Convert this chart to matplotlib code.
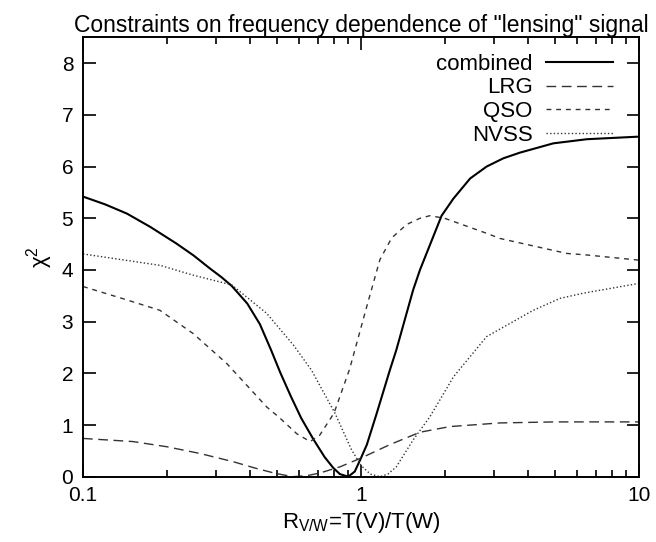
import numpy as np
import matplotlib
matplotlib.use("Agg")
import matplotlib.pyplot as plt
from matplotlib import ticker

plt.rcParams["font.family"] = ["Liberation Sans", "DejaVu Sans"]
plt.rcParams["mathtext.fontset"] = "custom"
plt.rcParams["mathtext.rm"] = "Liberation Sans"
plt.rcParams["mathtext.it"] = "Liberation Sans:italic"
plt.rcParams["font.size"] = 15

# values (x = R_V/W, y = chi^2)
combined_x = [0.1, 0.12, 0.144, 0.175, 0.217, 0.25, 0.286, 0.315, 0.343, 0.39,
              0.433, 0.475, 0.512, 0.56, 0.61, 0.675, 0.74, 0.795, 0.84, 0.9,
              0.95, 1.0, 1.05, 1.14, 1.27, 1.34, 1.54, 1.63, 1.95, 2.15, 2.47,
              2.83, 3.25, 3.73, 4.92, 6.5, 10]
combined_y = [5.42, 5.27, 5.09, 4.83, 4.51, 4.28, 4.03, 3.86, 3.69, 3.35,
              2.95, 2.45, 2.02, 1.55, 1.13, 0.72, 0.38, 0.17, 0.05, 0.0,
              0.10, 0.36, 0.62, 1.23, 2.06, 2.45, 3.61, 4.0, 5.05, 5.38, 5.77,
              6.0, 6.16, 6.27, 6.45, 6.53, 6.58]

lrg_x = [0.1, 0.151, 0.2, 0.263, 0.347, 0.42, 0.496, 0.57, 0.64, 0.71, 0.84,
         1.0, 1.27, 1.63, 2.09, 3.16, 5.0, 10]
lrg_y = [0.74, 0.68, 0.58, 0.45, 0.29, 0.16, 0.06, 0.0, 0.02, 0.07, 0.19,
         0.36, 0.62, 0.86, 0.97, 1.04, 1.06, 1.06]

qso_x = [0.1, 0.144, 0.189, 0.249, 0.329, 0.458, 0.512, 0.588, 0.656, 0.71,
         0.80, 0.91, 1.05, 1.17, 1.29, 1.46, 1.63, 1.77, 2.0, 2.83, 3.16,
         4.29, 5.5, 6.5, 10]
qso_y = [3.68, 3.42, 3.22, 2.77, 2.19, 1.35, 1.13, 0.83, 0.68, 0.80,
         1.23, 2.08, 3.30, 4.20, 4.62, 4.88, 5.0, 5.05, 5.0, 4.71, 4.61,
         4.45, 4.32, 4.29, 4.19]

nvss_x = [0.1, 0.189, 0.249, 0.343, 0.458, 0.571, 0.664, 0.806, 0.925, 1.0,
          1.08, 1.17, 1.25, 1.34, 1.54, 1.77, 1.92, 2.15, 2.83, 4.17, 5.2,
          6.3, 10]
nvss_y = [4.31, 4.09, 3.90, 3.71, 3.16, 2.55, 2.06, 1.23, 0.52, 0.22,
          0.05, 0.0, 0.05, 0.19, 0.71, 1.16, 1.48, 1.93, 2.71, 3.22, 3.45,
          3.55, 3.74]

fig = plt.figure(figsize=(6.56, 5.42), dpi=100)
ax = fig.add_axes([0.1265, 0.1205, 0.8475, 0.8105])

ax.plot(combined_x, combined_y, color="black", lw=1.5, label="combined")
ax.plot(lrg_x, lrg_y, color="#333333", lw=1, dashes=(7, 4), label="LRG")
ax.plot(qso_x, qso_y, color="#333333", lw=1, dashes=(3.5, 3.5), label="QSO")
ax.plot(nvss_x, nvss_y, color="#333333", lw=1, dashes=(1, 1.6), label="NVSS")

ax.set_xscale("log")
ax.set_xlim(0.1, 10)
ax.set_ylim(0, 8.5)
ax.set_yticks(range(0, 9))
ax.xaxis.set_major_formatter(ticker.FuncFormatter(lambda v, _: f"{v:g}"))
ax.xaxis.set_minor_formatter(ticker.NullFormatter())

ax.tick_params(which="both", direction="in", top=True, right=True, width=1.2)
ax.tick_params(which="major", length=9, pad=7)
ax.tick_params(which="minor", length=5)
for s in ax.spines.values():
    s.set_linewidth(1.4)

ax.set_title('Constraints on frequency dependence of "lensing" signal',
             fontsize=16.5, pad=3)
ax.set_xlabel(r"R$_{\mathrm{V/W}}$=T(V)/T(W)", fontsize=16, labelpad=3)
ax.set_ylabel(r"χ$^{2}$", fontsize=16, labelpad=5)

ax.legend(loc="upper right", bbox_to_anchor=(0.953, 0.963), frameon=False,
          markerfirst=False, fontsize=16, handlelength=3.0,
          handletextpad=0.6, labelspacing=0.12, borderpad=0,
          borderaxespad=0)

fig.savefig("out.png", dpi=100)
